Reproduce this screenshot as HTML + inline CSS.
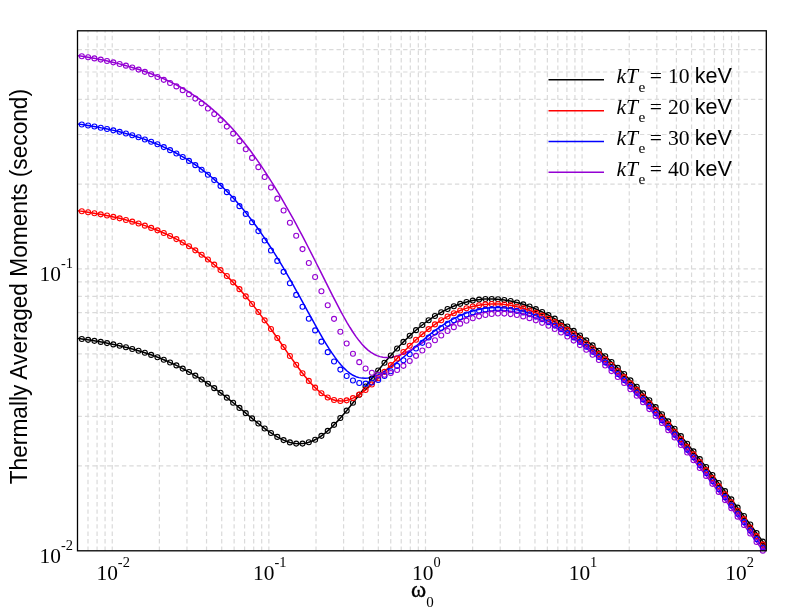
<!DOCTYPE html>
<html><head><meta charset="utf-8"><title>chart</title>
<style>html,body{margin:0;padding:0;background:#fff;}body{width:797px;height:616px;overflow:hidden;}svg{display:block;will-change:transform;opacity:0.999;}</style>
</head><body>
<svg width="797" height="616" viewBox="0 0 797 616">
<rect x="0" y="0" width="797" height="616" fill="#fff"/>
<defs><clipPath id="fr"><rect x="77.5" y="30.8" width="688.80" height="520.00"/></clipPath></defs>
<path d="M87.99 550.8V30.8M97.07 550.8V30.8M105.08 550.8V30.8M112.25 550.8V30.8M159.39 550.8V30.8M186.97 550.8V30.8M206.54 550.8V30.8M221.72 550.8V30.8M234.12 550.8V30.8M244.60 550.8V30.8M253.69 550.8V30.8M261.70 550.8V30.8M268.86 550.8V30.8M316.01 550.8V30.8M343.59 550.8V30.8M363.16 550.8V30.8M378.34 550.8V30.8M390.74 550.8V30.8M401.22 550.8V30.8M410.31 550.8V30.8M418.32 550.8V30.8M425.48 550.8V30.8M472.63 550.8V30.8M500.21 550.8V30.8M519.78 550.8V30.8M534.96 550.8V30.8M547.36 550.8V30.8M557.84 550.8V30.8M566.92 550.8V30.8M574.94 550.8V30.8M582.10 550.8V30.8M629.25 550.8V30.8M656.83 550.8V30.8M676.40 550.8V30.8M691.57 550.8V30.8M703.98 550.8V30.8M714.46 550.8V30.8M723.54 550.8V30.8M731.55 550.8V30.8M738.72 550.8V30.8M77.5 465.96H766.3M77.5 416.33H766.3M77.5 381.12H766.3M77.5 353.81H766.3M77.5 331.50H766.3M77.5 312.63H766.3M77.5 296.28H766.3M77.5 281.87H766.3M77.5 268.97H766.3M77.5 184.13H766.3M77.5 134.51H766.3M77.5 99.29H766.3M77.5 71.98H766.3M77.5 49.67H766.3" fill="none" stroke="#dadada" stroke-width="1.2" stroke-dasharray="4.4 3"/>
<polyline points="77.50,338.38 80.49,338.78 83.49,339.19 86.48,339.62 89.48,340.06 92.47,340.53 95.47,341.02 98.46,341.52 101.46,342.05 104.45,342.60 107.45,343.18 110.44,343.78 113.44,344.40 116.43,345.05 119.43,345.73 122.42,346.44 125.42,347.17 128.41,347.94 131.41,348.74 134.40,349.57 137.40,350.44 140.39,351.34 143.39,352.28 146.38,353.25 149.37,354.27 152.37,355.32 155.36,356.42 158.36,357.56 161.35,358.74 164.35,359.98 167.34,361.25 170.34,362.58 173.33,363.95 176.33,365.38 179.32,366.85 182.32,368.38 185.31,369.97 188.31,371.61 191.30,373.30 194.30,375.05 197.29,376.86 200.29,378.72 203.28,380.64 206.28,382.62 209.27,384.66 212.27,386.75 215.26,388.89 218.25,391.09 221.25,393.34 224.24,395.63 227.24,397.97 230.23,400.36 233.23,402.78 236.22,405.23 239.22,407.70 242.21,410.19 245.21,412.69 248.20,415.20 251.20,417.69 254.19,420.16 257.19,422.59 260.18,424.98 263.18,427.31 266.17,429.55 269.17,431.70 272.16,433.73 275.16,435.63 278.15,437.38 281.15,438.95 284.14,440.33 287.13,441.50 290.13,442.44 293.12,443.14 296.12,443.58 299.11,443.74 302.11,443.62 305.10,443.21 308.10,442.51 311.09,441.51 314.09,440.22 317.08,438.64 320.08,436.78 323.07,434.66 326.07,432.29 329.06,429.68 332.06,426.85 335.05,423.83 338.05,420.63 341.04,417.27 344.04,413.78 347.03,410.18 350.03,406.48 353.02,402.72 356.01,398.90 359.01,395.04 362.00,391.16 365.00,387.28 367.99,383.42 370.99,379.57 373.98,375.76 376.98,371.99 379.97,368.28 382.97,364.64 385.96,361.06 388.96,357.56 391.95,354.14 394.95,350.81 397.94,347.57 400.94,344.43 403.93,341.39 406.93,338.44 409.92,335.60 412.92,332.86 415.91,330.23 418.91,327.70 421.90,325.28 424.89,322.97 427.89,320.77 430.88,318.68 433.88,316.69 436.87,314.81 439.87,313.04 442.86,311.38 445.86,309.83 448.85,308.38 451.85,307.04 454.84,305.81 457.84,304.68 460.83,303.65 463.83,302.73 466.82,301.91 469.82,301.19 472.81,300.58 475.81,300.06 478.80,299.64 481.80,299.32 484.79,299.10 487.79,298.97 490.78,298.94 493.77,299.01 496.77,299.16 499.76,299.41 502.76,299.74 505.75,300.17 508.75,300.68 511.74,301.28 514.74,301.97 517.73,302.74 520.73,303.59 523.72,304.52 526.72,305.54 529.71,306.63 532.71,307.80 535.70,309.04 538.70,310.37 541.69,311.76 544.69,313.23 547.68,314.76 550.68,316.37 553.67,318.04 556.67,319.79 559.66,321.59 562.65,323.46 565.65,325.40 568.64,327.39 571.64,329.45 574.63,331.57 577.63,333.74 580.62,335.97 583.62,338.25 586.61,340.59 589.61,342.99 592.60,345.43 595.60,347.93 598.59,350.47 601.59,353.07 604.58,355.71 607.58,358.40 610.57,361.13 613.57,363.91 616.56,366.73 619.56,369.60 622.55,372.50 625.55,375.45 628.54,378.43 631.53,381.46 634.53,384.52 637.52,387.62 640.52,390.76 643.51,393.93 646.51,397.13 649.50,400.37 652.50,403.64 655.49,406.95 658.49,410.28 661.48,413.65 664.48,417.04 667.47,420.47 670.47,423.92 673.46,427.40 676.46,430.91 679.45,434.45 682.45,438.01 685.44,441.60 688.44,445.21 691.43,448.85 694.43,452.51 697.42,456.19 700.41,459.90 703.41,463.63 706.40,467.38 709.40,471.15 712.39,474.94 715.39,478.76 718.38,482.59 721.38,486.44 724.37,490.31 727.37,494.20 730.36,498.11 733.36,502.04 736.35,505.98 739.35,509.95 742.34,513.93 745.34,517.92 748.33,521.93 751.33,525.96 754.32,530.00 757.32,534.06 760.31,538.14 763.31,542.22 766.30,546.33" fill="none" stroke="#000000" stroke-width="1.5" stroke-linejoin="round" clip-path="url(#fr)"/>
<polyline points="77.50,210.72 80.49,211.12 83.49,211.54 86.48,211.98 89.48,212.44 92.47,212.92 95.47,213.42 98.46,213.95 101.46,214.49 104.45,215.06 107.45,215.65 110.44,216.27 113.44,216.92 116.43,217.60 119.43,218.30 122.42,219.03 125.42,219.80 128.41,220.60 131.41,221.43 134.40,222.30 137.40,223.20 140.39,224.15 143.39,225.13 146.38,226.16 149.37,227.23 152.37,228.34 155.36,229.50 158.36,230.71 161.35,231.96 164.35,233.27 167.34,234.64 170.34,236.06 173.33,237.53 176.33,239.07 179.32,240.67 182.32,242.33 185.31,244.06 188.31,245.86 191.30,247.73 194.30,249.67 197.29,251.69 200.29,253.78 203.28,255.95 206.28,258.20 209.27,260.54 212.27,262.96 215.26,265.47 218.25,268.07 221.25,270.76 224.24,273.54 227.24,276.42 230.23,279.39 233.23,282.46 236.22,285.62 239.22,288.88 242.21,292.24 245.21,295.70 248.20,299.25 251.20,302.89 254.19,306.63 257.19,310.45 260.18,314.36 263.18,318.35 266.17,322.41 269.17,326.53 272.16,330.72 275.16,334.95 278.15,339.21 281.15,343.50 284.14,347.80 287.13,352.08 290.13,356.34 293.12,360.55 296.12,364.69 299.11,368.74 302.11,372.67 305.10,376.45 308.10,380.05 311.09,383.45 314.09,386.63 317.08,389.54 320.08,392.17 323.07,394.49 326.07,396.49 329.06,398.13 332.06,399.42 335.05,400.33 338.05,400.87 341.04,401.03 344.04,400.83 347.03,400.26 350.03,399.36 353.02,398.12 356.01,396.59 359.01,394.77 362.00,392.70 365.00,390.41 367.99,387.91 370.99,385.25 373.98,382.44 376.98,379.52 379.97,376.50 382.97,373.41 385.96,370.28 388.96,367.12 391.95,363.95 394.95,360.78 397.94,357.64 400.94,354.54 403.93,351.48 406.93,348.48 409.92,345.54 412.92,342.68 415.91,339.90 418.91,337.20 421.90,334.60 424.89,332.09 427.89,329.68 430.88,327.38 433.88,325.18 436.87,323.08 439.87,321.09 442.86,319.21 445.86,317.45 448.85,315.79 451.85,314.24 454.84,312.80 457.84,311.47 460.83,310.26 463.83,309.15 466.82,308.15 469.82,307.26 472.81,306.48 475.81,305.80 478.80,305.23 481.80,304.77 484.79,304.41 487.79,304.15 490.78,303.99 493.77,303.93 496.77,303.97 499.76,304.10 502.76,304.34 505.75,304.66 508.75,305.08 511.74,305.59 514.74,306.20 517.73,306.88 520.73,307.66 523.72,308.52 526.72,309.47 529.71,310.50 532.71,311.61 535.70,312.80 538.70,314.07 541.69,315.41 544.69,316.83 547.68,318.32 550.68,319.89 553.67,321.52 556.67,323.23 559.66,325.00 562.65,326.84 565.65,328.74 568.64,330.71 571.64,332.74 574.63,334.83 577.63,336.98 580.62,339.19 583.62,341.46 586.61,343.78 589.61,346.15 592.60,348.58 595.60,351.06 598.59,353.60 601.59,356.18 604.58,358.81 607.58,361.49 610.57,364.21 613.57,366.98 616.56,369.79 619.56,372.65 622.55,375.55 625.55,378.49 628.54,381.47 631.53,384.49 634.53,387.54 637.52,390.64 640.52,393.77 643.51,396.94 646.51,400.14 649.50,403.38 652.50,406.65 655.49,409.95 658.49,413.29 661.48,416.65 664.48,420.05 667.47,423.47 670.47,426.92 673.46,430.41 676.46,433.92 679.45,437.45 682.45,441.02 685.44,444.60 688.44,448.22 691.43,451.86 694.43,455.52 697.42,459.20 700.41,462.91 703.41,466.64 706.40,470.40 709.40,474.17 712.39,477.96 715.39,481.78 718.38,485.62 721.38,489.47 724.37,493.35 727.37,497.24 730.36,501.15 733.36,505.08 736.35,509.03 739.35,512.99 742.34,516.98 745.34,520.97 748.33,524.99 751.33,529.02 754.32,533.07 757.32,537.13 760.31,541.20 763.31,545.30 766.30,549.40" fill="none" stroke="#ff0000" stroke-width="1.5" stroke-linejoin="round" clip-path="url(#fr)"/>
<polyline points="77.50,123.95 80.49,124.37 83.49,124.80 86.48,125.26 89.48,125.74 92.47,126.24 95.47,126.76 98.46,127.30 101.46,127.87 104.45,128.46 107.45,129.07 110.44,129.72 113.44,130.39 116.43,131.09 119.43,131.82 122.42,132.58 125.42,133.37 128.41,134.20 131.41,135.07 134.40,135.97 137.40,136.91 140.39,137.89 143.39,138.91 146.38,139.97 149.37,141.08 152.37,142.24 155.36,143.43 158.36,144.68 161.35,145.97 164.35,147.32 167.34,148.72 170.34,150.17 173.33,151.68 176.33,153.26 179.32,154.89 182.32,156.59 185.31,158.36 188.31,160.20 191.30,162.12 194.30,164.11 197.29,166.18 200.29,168.33 203.28,170.56 206.28,172.88 209.27,175.29 212.27,177.78 215.26,180.37 218.25,183.05 221.25,185.83 224.24,188.70 227.24,191.69 230.23,194.77 233.23,197.97 236.22,201.27 239.22,204.69 242.21,208.22 245.21,211.86 248.20,215.61 251.20,219.48 254.19,223.46 257.19,227.56 260.18,231.77 263.18,236.09 266.17,240.52 269.17,245.03 272.16,249.64 275.16,254.35 278.15,259.17 281.15,264.11 284.14,269.17 287.13,274.34 290.13,279.60 293.12,284.93 296.12,290.32 299.11,295.73 302.11,301.15 305.10,306.58 308.10,312.03 311.09,317.48 314.09,322.94 317.08,328.36 320.08,333.68 323.07,338.86 326.07,343.85 329.06,348.63 332.06,353.17 335.05,357.42 338.05,361.36 341.04,364.95 344.04,368.16 347.03,370.97 350.03,373.35 353.02,375.26 356.01,376.68 359.01,377.62 362.00,378.12 365.00,378.23 367.99,377.98 370.99,377.40 373.98,376.51 376.98,375.32 379.97,373.88 382.97,372.19 385.96,370.32 388.96,368.30 391.95,366.17 394.95,363.95 397.94,361.64 400.94,359.24 403.93,356.77 406.93,354.24 409.92,351.66 412.92,349.04 415.91,346.39 418.91,343.75 421.90,341.14 424.89,338.59 427.89,336.10 430.88,333.70 433.88,331.38 436.87,329.17 439.87,327.05 442.86,325.04 445.86,323.14 448.85,321.34 451.85,319.65 454.84,318.07 457.84,316.60 460.83,315.24 463.83,313.99 466.82,312.86 469.82,311.83 472.81,310.92 475.81,310.12 478.80,309.43 481.80,308.85 484.79,308.38 487.79,308.01 490.78,307.75 493.77,307.59 496.77,307.53 499.76,307.58 502.76,307.73 505.75,307.97 508.75,308.31 511.74,308.75 514.74,309.28 517.73,309.90 520.73,310.62 523.72,311.43 526.72,312.32 529.71,313.30 532.71,314.37 535.70,315.52 538.70,316.75 541.69,318.06 544.69,319.46 547.68,320.92 550.68,322.47 553.67,324.09 556.67,325.78 559.66,327.54 562.65,329.37 565.65,331.27 568.64,333.23 571.64,335.26 574.63,337.35 577.63,339.51 580.62,341.72 583.62,343.99 586.61,346.32 589.61,348.70 592.60,351.14 595.60,353.63 598.59,356.17 601.59,358.77 604.58,361.41 607.58,364.11 610.57,366.85 613.57,369.64 616.56,372.48 619.56,375.36 622.55,378.28 625.55,381.25 628.54,384.26 631.53,387.30 634.53,390.38 637.52,393.50 640.52,396.65 643.51,399.84 646.51,403.06 649.50,406.31 652.50,409.59 655.49,412.90 658.49,416.24 661.48,419.61 664.48,423.00 667.47,426.42 670.47,429.88 673.46,433.36 676.46,436.87 679.45,440.41 682.45,443.97 685.44,447.56 688.44,451.17 691.43,454.81 694.43,458.48 697.42,462.16 700.41,465.87 703.41,469.61 706.40,473.36 709.40,477.14 712.39,480.93 715.39,484.75 718.38,488.59 721.38,492.45 724.37,496.32 727.37,500.22 730.36,504.13 733.36,508.07 736.35,512.02 739.35,515.98 742.34,519.97 745.34,523.97 748.33,527.99 751.33,532.02 754.32,536.07 757.32,540.14 760.31,544.21 763.31,548.31 766.30,552.42" fill="none" stroke="#0000ff" stroke-width="1.5" stroke-linejoin="round" clip-path="url(#fr)"/>
<polyline points="77.50,55.66 80.49,56.10 83.49,56.55 86.48,57.03 89.48,57.53 92.47,58.05 95.47,58.59 98.46,59.16 101.46,59.75 104.45,60.37 107.45,61.02 110.44,61.69 113.44,62.40 116.43,63.13 119.43,63.89 122.42,64.69 125.42,65.52 128.41,66.38 131.41,67.26 134.40,68.16 137.40,69.09 140.39,70.04 143.39,71.03 146.38,72.06 149.37,73.12 152.37,74.23 155.36,75.38 158.36,76.58 161.35,77.83 164.35,79.13 167.34,80.48 170.34,81.89 173.33,83.36 176.33,84.89 179.32,86.48 182.32,88.14 185.31,89.87 188.31,91.67 191.30,93.55 194.30,95.51 197.29,97.55 200.29,99.68 203.28,101.89 206.28,104.20 209.27,106.60 212.27,109.10 215.26,111.70 218.25,114.40 221.25,117.21 224.24,120.14 227.24,123.17 230.23,126.33 233.23,129.61 236.22,133.00 239.22,136.53 242.21,140.17 245.21,143.94 248.20,147.82 251.20,151.82 254.19,155.94 257.19,160.17 260.18,164.50 263.18,168.95 266.17,173.50 269.17,178.14 272.16,182.89 275.16,187.73 278.15,192.66 281.15,197.68 284.14,202.80 287.13,208.01 290.13,213.31 293.12,218.71 296.12,224.20 299.11,229.78 302.11,235.44 305.10,241.18 308.10,246.99 311.09,252.85 314.09,258.77 317.08,264.72 320.08,270.69 323.07,276.68 326.07,282.66 329.06,288.62 332.06,294.54 335.05,300.40 338.05,306.16 341.04,311.80 344.04,317.26 347.03,322.52 350.03,327.52 353.02,332.23 356.01,336.60 359.01,340.60 362.00,344.19 365.00,347.37 367.99,350.10 370.99,352.39 373.98,354.23 376.98,355.63 379.97,356.61 382.97,357.22 385.96,357.49 388.96,357.46 391.95,357.15 394.95,356.57 397.94,355.73 400.94,354.67 403.93,353.42 406.93,352.01 409.92,350.45 412.92,348.76 415.91,346.96 418.91,345.07 421.90,343.12 424.89,341.14 427.89,339.16 430.88,337.20 433.88,335.26 436.87,333.35 439.87,331.47 442.86,329.60 445.86,327.76 448.85,325.99 451.85,324.30 454.84,322.69 457.84,321.17 460.83,319.75 463.83,318.41 466.82,317.17 469.82,316.02 472.81,314.98 475.81,314.04 478.80,313.21 481.80,312.50 484.79,311.90 487.79,311.41 490.78,311.03 493.77,310.75 496.77,310.57 499.76,310.52 502.76,310.58 505.75,310.77 508.75,311.06 511.74,311.44 514.74,311.93 517.73,312.51 520.73,313.19 523.72,313.95 526.72,314.81 529.71,315.76 532.71,316.80 535.70,317.93 538.70,319.13 541.69,320.43 544.69,321.80 547.68,323.25 550.68,324.78 553.67,326.38 556.67,328.06 559.66,329.81 562.65,331.63 565.65,333.52 568.64,335.47 571.64,337.49 574.63,339.58 577.63,341.73 580.62,343.94 583.62,346.21 586.61,348.53 589.61,350.92 592.60,353.36 595.60,355.85 598.59,358.40 601.59,360.99 604.58,363.64 607.58,366.34 610.57,369.08 613.57,371.87 616.56,374.71 619.56,377.59 622.55,380.51 625.55,383.48 628.54,386.48 631.53,389.53 634.53,392.61 637.52,395.73 640.52,398.89 643.51,402.09 646.51,405.32 649.50,408.59 652.50,411.89 655.49,415.22 658.49,418.58 661.48,421.97 664.48,425.40 667.47,428.85 670.47,432.33 673.46,435.84 676.46,439.38 679.45,442.95 682.45,446.54 685.44,450.15 688.44,453.79 691.43,457.46 694.43,461.15 697.42,464.86 700.41,468.59 703.41,472.34 706.40,476.13 709.40,479.95 712.39,483.80 715.39,487.65 718.38,491.51 721.38,495.37 724.37,499.25 727.37,503.15 730.36,507.06 733.36,511.00 736.35,514.95 739.35,518.92 742.34,522.91 745.34,526.91 748.33,530.93 751.33,534.97 754.32,539.02 757.32,543.09 760.31,547.17 763.31,551.26 766.30,555.38" fill="none" stroke="#9400d3" stroke-width="1.5" stroke-linejoin="round" clip-path="url(#fr)"/>
<g fill="none" stroke="#000000" stroke-width="1.1">
<circle cx="81.80" cy="338.95" r="2.5"/>
<circle cx="88.11" cy="339.86" r="2.5"/>
<circle cx="94.41" cy="340.84" r="2.5"/>
<circle cx="100.72" cy="341.92" r="2.5"/>
<circle cx="107.02" cy="343.09" r="2.5"/>
<circle cx="113.33" cy="344.38" r="2.5"/>
<circle cx="119.64" cy="345.78" r="2.5"/>
<circle cx="125.94" cy="347.31" r="2.5"/>
<circle cx="132.25" cy="348.97" r="2.5"/>
<circle cx="138.55" cy="350.78" r="2.5"/>
<circle cx="144.86" cy="352.75" r="2.5"/>
<circle cx="151.17" cy="354.89" r="2.5"/>
<circle cx="157.47" cy="357.22" r="2.5"/>
<circle cx="163.78" cy="359.74" r="2.5"/>
<circle cx="170.08" cy="362.46" r="2.5"/>
<circle cx="176.39" cy="365.41" r="2.5"/>
<circle cx="182.70" cy="368.58" r="2.5"/>
<circle cx="189.00" cy="372.00" r="2.5"/>
<circle cx="195.31" cy="375.66" r="2.5"/>
<circle cx="201.61" cy="379.57" r="2.5"/>
<circle cx="207.92" cy="383.73" r="2.5"/>
<circle cx="214.23" cy="388.15" r="2.5"/>
<circle cx="220.53" cy="392.79" r="2.5"/>
<circle cx="226.84" cy="397.66" r="2.5"/>
<circle cx="233.14" cy="402.71" r="2.5"/>
<circle cx="239.45" cy="407.89" r="2.5"/>
<circle cx="245.76" cy="413.15" r="2.5"/>
<circle cx="252.06" cy="418.40" r="2.5"/>
<circle cx="258.37" cy="423.54" r="2.5"/>
<circle cx="264.67" cy="428.44" r="2.5"/>
<circle cx="270.98" cy="432.94" r="2.5"/>
<circle cx="277.29" cy="436.89" r="2.5"/>
<circle cx="283.59" cy="440.09" r="2.5"/>
<circle cx="289.90" cy="442.38" r="2.5"/>
<circle cx="296.20" cy="443.59" r="2.5"/>
<circle cx="302.51" cy="443.59" r="2.5"/>
<circle cx="308.82" cy="442.30" r="2.5"/>
<circle cx="315.12" cy="439.71" r="2.5"/>
<circle cx="321.43" cy="435.86" r="2.5"/>
<circle cx="327.73" cy="430.86" r="2.5"/>
<circle cx="334.04" cy="424.87" r="2.5"/>
<circle cx="340.35" cy="418.06" r="2.5"/>
<circle cx="346.65" cy="410.64" r="2.5"/>
<circle cx="352.96" cy="402.80" r="2.5"/>
<circle cx="359.26" cy="394.71" r="2.5"/>
<circle cx="365.57" cy="386.55" r="2.5"/>
<circle cx="371.88" cy="378.44" r="2.5"/>
<circle cx="378.18" cy="370.50" r="2.5"/>
<circle cx="384.49" cy="362.81" r="2.5"/>
<circle cx="390.79" cy="355.45" r="2.5"/>
<circle cx="397.10" cy="348.47" r="2.5"/>
<circle cx="403.41" cy="341.91" r="2.5"/>
<circle cx="409.71" cy="335.79" r="2.5"/>
<circle cx="416.02" cy="330.14" r="2.5"/>
<circle cx="422.32" cy="324.95" r="2.5"/>
<circle cx="428.63" cy="320.24" r="2.5"/>
<circle cx="434.94" cy="316.02" r="2.5"/>
<circle cx="441.24" cy="312.27" r="2.5"/>
<circle cx="447.55" cy="309.00" r="2.5"/>
<circle cx="453.85" cy="306.20" r="2.5"/>
<circle cx="460.16" cy="303.87" r="2.5"/>
<circle cx="466.47" cy="302.00" r="2.5"/>
<circle cx="472.77" cy="300.58" r="2.5"/>
<circle cx="479.08" cy="299.61" r="2.5"/>
<circle cx="485.38" cy="299.07" r="2.5"/>
<circle cx="491.69" cy="298.95" r="2.5"/>
<circle cx="498.00" cy="299.25" r="2.5"/>
<circle cx="504.30" cy="299.95" r="2.5"/>
<circle cx="510.61" cy="301.04" r="2.5"/>
<circle cx="516.91" cy="302.52" r="2.5"/>
<circle cx="523.22" cy="304.36" r="2.5"/>
<circle cx="529.53" cy="306.56" r="2.5"/>
<circle cx="535.83" cy="309.10" r="2.5"/>
<circle cx="542.14" cy="311.97" r="2.5"/>
<circle cx="548.44" cy="315.17" r="2.5"/>
<circle cx="554.75" cy="318.66" r="2.5"/>
<circle cx="561.06" cy="322.46" r="2.5"/>
<circle cx="567.36" cy="326.53" r="2.5"/>
<circle cx="573.67" cy="330.88" r="2.5"/>
<circle cx="579.97" cy="335.48" r="2.5"/>
<circle cx="586.28" cy="340.33" r="2.5"/>
<circle cx="592.59" cy="345.42" r="2.5"/>
<circle cx="598.89" cy="350.73" r="2.5"/>
<circle cx="605.20" cy="356.26" r="2.5"/>
<circle cx="611.50" cy="361.99" r="2.5"/>
<circle cx="617.81" cy="367.92" r="2.5"/>
<circle cx="624.12" cy="374.04" r="2.5"/>
<circle cx="630.42" cy="380.33" r="2.5"/>
<circle cx="636.73" cy="386.79" r="2.5"/>
<circle cx="643.03" cy="393.42" r="2.5"/>
<circle cx="649.34" cy="400.19" r="2.5"/>
<circle cx="655.65" cy="407.12" r="2.5"/>
<circle cx="661.95" cy="414.18" r="2.5"/>
<circle cx="668.26" cy="421.37" r="2.5"/>
<circle cx="674.56" cy="428.69" r="2.5"/>
<circle cx="680.87" cy="436.13" r="2.5"/>
<circle cx="687.18" cy="443.69" r="2.5"/>
<circle cx="693.48" cy="451.35" r="2.5"/>
<circle cx="699.79" cy="459.12" r="2.5"/>
<circle cx="706.09" cy="466.99" r="2.5"/>
<circle cx="712.40" cy="474.95" r="2.5"/>
<circle cx="718.71" cy="483.00" r="2.5"/>
<circle cx="725.01" cy="491.14" r="2.5"/>
<circle cx="731.32" cy="499.36" r="2.5"/>
<circle cx="737.62" cy="507.67" r="2.5"/>
<circle cx="743.93" cy="516.04" r="2.5"/>
<circle cx="750.24" cy="524.49" r="2.5"/>
<circle cx="756.54" cy="533.01" r="2.5"/>
<circle cx="762.85" cy="541.60" r="2.5"/>
</g>
<g fill="none" stroke="#ff0000" stroke-width="1.1">
<circle cx="81.80" cy="211.30" r="2.5"/>
<circle cx="88.11" cy="212.23" r="2.5"/>
<circle cx="94.41" cy="213.24" r="2.5"/>
<circle cx="100.72" cy="214.35" r="2.5"/>
<circle cx="107.02" cy="215.57" r="2.5"/>
<circle cx="113.33" cy="216.90" r="2.5"/>
<circle cx="119.64" cy="218.35" r="2.5"/>
<circle cx="125.94" cy="219.94" r="2.5"/>
<circle cx="132.25" cy="221.67" r="2.5"/>
<circle cx="138.55" cy="223.56" r="2.5"/>
<circle cx="144.86" cy="225.63" r="2.5"/>
<circle cx="151.17" cy="227.89" r="2.5"/>
<circle cx="157.47" cy="230.34" r="2.5"/>
<circle cx="163.78" cy="233.02" r="2.5"/>
<circle cx="170.08" cy="235.93" r="2.5"/>
<circle cx="176.39" cy="239.10" r="2.5"/>
<circle cx="182.70" cy="242.55" r="2.5"/>
<circle cx="189.00" cy="246.29" r="2.5"/>
<circle cx="195.31" cy="250.34" r="2.5"/>
<circle cx="201.61" cy="254.73" r="2.5"/>
<circle cx="207.92" cy="259.48" r="2.5"/>
<circle cx="214.23" cy="264.59" r="2.5"/>
<circle cx="220.53" cy="270.11" r="2.5"/>
<circle cx="226.84" cy="276.03" r="2.5"/>
<circle cx="233.14" cy="282.37" r="2.5"/>
<circle cx="239.45" cy="289.14" r="2.5"/>
<circle cx="245.76" cy="296.34" r="2.5"/>
<circle cx="252.06" cy="303.96" r="2.5"/>
<circle cx="258.37" cy="311.98" r="2.5"/>
<circle cx="264.67" cy="320.37" r="2.5"/>
<circle cx="270.98" cy="329.06" r="2.5"/>
<circle cx="277.29" cy="337.98" r="2.5"/>
<circle cx="283.59" cy="347.01" r="2.5"/>
<circle cx="289.90" cy="356.01" r="2.5"/>
<circle cx="296.20" cy="364.81" r="2.5"/>
<circle cx="302.51" cy="373.18" r="2.5"/>
<circle cx="308.82" cy="380.89" r="2.5"/>
<circle cx="315.12" cy="387.66" r="2.5"/>
<circle cx="321.43" cy="393.26" r="2.5"/>
<circle cx="327.73" cy="397.45" r="2.5"/>
<circle cx="334.04" cy="400.06" r="2.5"/>
<circle cx="340.35" cy="401.03" r="2.5"/>
<circle cx="346.65" cy="400.35" r="2.5"/>
<circle cx="352.96" cy="398.15" r="2.5"/>
<circle cx="359.26" cy="394.60" r="2.5"/>
<circle cx="365.57" cy="389.94" r="2.5"/>
<circle cx="371.88" cy="384.43" r="2.5"/>
<circle cx="378.18" cy="378.31" r="2.5"/>
<circle cx="384.49" cy="371.83" r="2.5"/>
<circle cx="390.79" cy="365.17" r="2.5"/>
<circle cx="397.10" cy="358.52" r="2.5"/>
<circle cx="403.41" cy="352.01" r="2.5"/>
<circle cx="409.71" cy="345.74" r="2.5"/>
<circle cx="416.02" cy="339.80" r="2.5"/>
<circle cx="422.32" cy="334.24" r="2.5"/>
<circle cx="428.63" cy="329.10" r="2.5"/>
<circle cx="434.94" cy="324.42" r="2.5"/>
<circle cx="441.24" cy="320.22" r="2.5"/>
<circle cx="447.55" cy="316.50" r="2.5"/>
<circle cx="453.85" cy="313.26" r="2.5"/>
<circle cx="460.16" cy="310.52" r="2.5"/>
<circle cx="466.47" cy="308.26" r="2.5"/>
<circle cx="472.77" cy="306.49" r="2.5"/>
<circle cx="479.08" cy="305.19" r="2.5"/>
<circle cx="485.38" cy="304.35" r="2.5"/>
<circle cx="491.69" cy="303.96" r="2.5"/>
<circle cx="498.00" cy="304.01" r="2.5"/>
<circle cx="504.30" cy="304.49" r="2.5"/>
<circle cx="510.61" cy="305.39" r="2.5"/>
<circle cx="516.91" cy="306.69" r="2.5"/>
<circle cx="523.22" cy="308.37" r="2.5"/>
<circle cx="529.53" cy="310.43" r="2.5"/>
<circle cx="535.83" cy="312.85" r="2.5"/>
<circle cx="542.14" cy="315.62" r="2.5"/>
<circle cx="548.44" cy="318.71" r="2.5"/>
<circle cx="554.75" cy="322.13" r="2.5"/>
<circle cx="561.06" cy="325.85" r="2.5"/>
<circle cx="567.36" cy="329.86" r="2.5"/>
<circle cx="573.67" cy="334.15" r="2.5"/>
<circle cx="579.97" cy="338.71" r="2.5"/>
<circle cx="586.28" cy="343.52" r="2.5"/>
<circle cx="592.59" cy="348.57" r="2.5"/>
<circle cx="598.89" cy="353.85" r="2.5"/>
<circle cx="605.20" cy="359.35" r="2.5"/>
<circle cx="611.50" cy="365.07" r="2.5"/>
<circle cx="617.81" cy="370.98" r="2.5"/>
<circle cx="624.12" cy="377.08" r="2.5"/>
<circle cx="630.42" cy="383.36" r="2.5"/>
<circle cx="636.73" cy="389.81" r="2.5"/>
<circle cx="643.03" cy="396.43" r="2.5"/>
<circle cx="649.34" cy="403.20" r="2.5"/>
<circle cx="655.65" cy="410.12" r="2.5"/>
<circle cx="661.95" cy="417.18" r="2.5"/>
<circle cx="668.26" cy="424.37" r="2.5"/>
<circle cx="674.56" cy="431.70" r="2.5"/>
<circle cx="680.87" cy="439.14" r="2.5"/>
<circle cx="687.18" cy="446.69" r="2.5"/>
<circle cx="693.48" cy="454.36" r="2.5"/>
<circle cx="699.79" cy="462.13" r="2.5"/>
<circle cx="706.09" cy="470.01" r="2.5"/>
<circle cx="712.40" cy="477.97" r="2.5"/>
<circle cx="718.71" cy="486.03" r="2.5"/>
<circle cx="725.01" cy="494.18" r="2.5"/>
<circle cx="731.32" cy="502.40" r="2.5"/>
<circle cx="737.62" cy="510.71" r="2.5"/>
<circle cx="743.93" cy="519.09" r="2.5"/>
<circle cx="750.24" cy="527.55" r="2.5"/>
<circle cx="756.54" cy="536.08" r="2.5"/>
<circle cx="762.85" cy="544.67" r="2.5"/>
</g>
<g fill="none" stroke="#0000ff" stroke-width="1.1">
<circle cx="81.80" cy="124.55" r="2.5"/>
<circle cx="88.11" cy="125.52" r="2.5"/>
<circle cx="94.41" cy="126.57" r="2.5"/>
<circle cx="100.72" cy="127.72" r="2.5"/>
<circle cx="107.02" cy="128.98" r="2.5"/>
<circle cx="113.33" cy="130.36" r="2.5"/>
<circle cx="119.64" cy="131.87" r="2.5"/>
<circle cx="125.94" cy="133.52" r="2.5"/>
<circle cx="132.25" cy="135.32" r="2.5"/>
<circle cx="138.55" cy="137.28" r="2.5"/>
<circle cx="144.86" cy="139.43" r="2.5"/>
<circle cx="151.17" cy="141.77" r="2.5"/>
<circle cx="157.47" cy="144.32" r="2.5"/>
<circle cx="163.78" cy="147.10" r="2.5"/>
<circle cx="170.08" cy="150.13" r="2.5"/>
<circle cx="176.39" cy="153.43" r="2.5"/>
<circle cx="182.70" cy="157.02" r="2.5"/>
<circle cx="189.00" cy="160.91" r="2.5"/>
<circle cx="195.31" cy="165.14" r="2.5"/>
<circle cx="201.61" cy="169.73" r="2.5"/>
<circle cx="207.92" cy="174.70" r="2.5"/>
<circle cx="214.23" cy="180.08" r="2.5"/>
<circle cx="220.53" cy="185.89" r="2.5"/>
<circle cx="226.84" cy="192.15" r="2.5"/>
<circle cx="233.14" cy="198.90" r="2.5"/>
<circle cx="239.45" cy="206.15" r="2.5"/>
<circle cx="245.76" cy="213.92" r="2.5"/>
<circle cx="252.06" cy="222.23" r="2.5"/>
<circle cx="258.37" cy="231.08" r="2.5"/>
<circle cx="264.67" cy="240.49" r="2.5"/>
<circle cx="270.98" cy="250.44" r="2.5"/>
<circle cx="277.29" cy="260.91" r="2.5"/>
<circle cx="283.59" cy="271.86" r="2.5"/>
<circle cx="289.90" cy="283.22" r="2.5"/>
<circle cx="296.20" cy="294.90" r="2.5"/>
<circle cx="302.51" cy="306.78" r="2.5"/>
<circle cx="308.82" cy="318.68" r="2.5"/>
<circle cx="315.12" cy="330.38" r="2.5"/>
<circle cx="321.43" cy="341.64" r="2.5"/>
<circle cx="327.73" cy="352.14" r="2.5"/>
<circle cx="334.04" cy="361.56" r="2.5"/>
<circle cx="340.35" cy="369.60" r="2.5"/>
<circle cx="346.65" cy="375.97" r="2.5"/>
<circle cx="352.96" cy="380.47" r="2.5"/>
<circle cx="359.26" cy="383.02" r="2.5"/>
<circle cx="365.57" cy="383.67" r="2.5"/>
<circle cx="371.88" cy="382.55" r="2.5"/>
<circle cx="378.18" cy="379.92" r="2.5"/>
<circle cx="384.49" cy="376.07" r="2.5"/>
<circle cx="390.79" cy="371.30" r="2.5"/>
<circle cx="397.10" cy="365.92" r="2.5"/>
<circle cx="403.41" cy="360.18" r="2.5"/>
<circle cx="409.71" cy="354.32" r="2.5"/>
<circle cx="416.02" cy="348.49" r="2.5"/>
<circle cx="422.32" cy="342.86" r="2.5"/>
<circle cx="428.63" cy="337.51" r="2.5"/>
<circle cx="434.94" cy="332.53" r="2.5"/>
<circle cx="441.24" cy="327.97" r="2.5"/>
<circle cx="447.55" cy="323.87" r="2.5"/>
<circle cx="453.85" cy="320.25" r="2.5"/>
<circle cx="460.16" cy="317.13" r="2.5"/>
<circle cx="466.47" cy="314.51" r="2.5"/>
<circle cx="472.77" cy="312.39" r="2.5"/>
<circle cx="479.08" cy="310.77" r="2.5"/>
<circle cx="485.38" cy="309.64" r="2.5"/>
<circle cx="491.69" cy="308.98" r="2.5"/>
<circle cx="498.00" cy="308.79" r="2.5"/>
<circle cx="504.30" cy="309.04" r="2.5"/>
<circle cx="510.61" cy="309.74" r="2.5"/>
<circle cx="516.91" cy="310.86" r="2.5"/>
<circle cx="523.22" cy="312.39" r="2.5"/>
<circle cx="529.53" cy="314.30" r="2.5"/>
<circle cx="535.83" cy="316.60" r="2.5"/>
<circle cx="542.14" cy="319.25" r="2.5"/>
<circle cx="548.44" cy="322.25" r="2.5"/>
<circle cx="554.75" cy="325.58" r="2.5"/>
<circle cx="561.06" cy="329.22" r="2.5"/>
<circle cx="567.36" cy="333.17" r="2.5"/>
<circle cx="573.67" cy="337.40" r="2.5"/>
<circle cx="579.97" cy="341.91" r="2.5"/>
<circle cx="586.28" cy="346.67" r="2.5"/>
<circle cx="592.59" cy="351.69" r="2.5"/>
<circle cx="598.89" cy="356.94" r="2.5"/>
<circle cx="605.20" cy="362.41" r="2.5"/>
<circle cx="611.50" cy="368.10" r="2.5"/>
<circle cx="617.81" cy="373.99" r="2.5"/>
<circle cx="624.12" cy="380.08" r="2.5"/>
<circle cx="630.42" cy="386.35" r="2.5"/>
<circle cx="636.73" cy="392.79" r="2.5"/>
<circle cx="643.03" cy="399.40" r="2.5"/>
<circle cx="649.34" cy="406.16" r="2.5"/>
<circle cx="655.65" cy="413.08" r="2.5"/>
<circle cx="661.95" cy="420.14" r="2.5"/>
<circle cx="668.26" cy="427.33" r="2.5"/>
<circle cx="674.56" cy="434.65" r="2.5"/>
<circle cx="680.87" cy="442.09" r="2.5"/>
<circle cx="687.18" cy="449.65" r="2.5"/>
<circle cx="693.48" cy="457.32" r="2.5"/>
<circle cx="699.79" cy="465.09" r="2.5"/>
<circle cx="706.09" cy="472.97" r="2.5"/>
<circle cx="712.40" cy="480.94" r="2.5"/>
<circle cx="718.71" cy="489.00" r="2.5"/>
<circle cx="725.01" cy="497.15" r="2.5"/>
<circle cx="731.32" cy="505.39" r="2.5"/>
<circle cx="737.62" cy="513.70" r="2.5"/>
<circle cx="743.93" cy="522.09" r="2.5"/>
<circle cx="750.24" cy="530.55" r="2.5"/>
<circle cx="756.54" cy="539.08" r="2.5"/>
<circle cx="762.85" cy="547.68" r="2.5"/>
</g>
<g fill="none" stroke="#9400d3" stroke-width="1.1">
<circle cx="81.80" cy="56.29" r="2.5"/>
<circle cx="88.11" cy="57.30" r="2.5"/>
<circle cx="94.41" cy="58.40" r="2.5"/>
<circle cx="100.72" cy="59.61" r="2.5"/>
<circle cx="107.02" cy="60.93" r="2.5"/>
<circle cx="113.33" cy="62.37" r="2.5"/>
<circle cx="119.64" cy="63.95" r="2.5"/>
<circle cx="125.94" cy="65.67" r="2.5"/>
<circle cx="132.25" cy="67.55" r="2.5"/>
<circle cx="138.55" cy="69.60" r="2.5"/>
<circle cx="144.86" cy="71.83" r="2.5"/>
<circle cx="151.17" cy="74.27" r="2.5"/>
<circle cx="157.47" cy="76.93" r="2.5"/>
<circle cx="163.78" cy="79.83" r="2.5"/>
<circle cx="170.08" cy="82.98" r="2.5"/>
<circle cx="176.39" cy="86.41" r="2.5"/>
<circle cx="182.70" cy="90.14" r="2.5"/>
<circle cx="189.00" cy="94.19" r="2.5"/>
<circle cx="195.31" cy="98.58" r="2.5"/>
<circle cx="201.61" cy="103.34" r="2.5"/>
<circle cx="207.92" cy="108.50" r="2.5"/>
<circle cx="214.23" cy="114.08" r="2.5"/>
<circle cx="220.53" cy="120.10" r="2.5"/>
<circle cx="226.84" cy="126.60" r="2.5"/>
<circle cx="233.14" cy="133.61" r="2.5"/>
<circle cx="239.45" cy="141.14" r="2.5"/>
<circle cx="245.76" cy="149.22" r="2.5"/>
<circle cx="252.06" cy="157.89" r="2.5"/>
<circle cx="258.37" cy="167.15" r="2.5"/>
<circle cx="264.67" cy="177.03" r="2.5"/>
<circle cx="270.98" cy="187.54" r="2.5"/>
<circle cx="277.29" cy="198.67" r="2.5"/>
<circle cx="283.59" cy="210.43" r="2.5"/>
<circle cx="289.90" cy="222.79" r="2.5"/>
<circle cx="296.20" cy="235.71" r="2.5"/>
<circle cx="302.51" cy="249.12" r="2.5"/>
<circle cx="308.82" cy="262.94" r="2.5"/>
<circle cx="315.12" cy="277.03" r="2.5"/>
<circle cx="321.43" cy="291.21" r="2.5"/>
<circle cx="327.73" cy="305.25" r="2.5"/>
<circle cx="334.04" cy="318.87" r="2.5"/>
<circle cx="340.35" cy="331.73" r="2.5"/>
<circle cx="346.65" cy="343.48" r="2.5"/>
<circle cx="352.96" cy="353.74" r="2.5"/>
<circle cx="359.26" cy="362.17" r="2.5"/>
<circle cx="365.57" cy="368.53" r="2.5"/>
<circle cx="371.88" cy="372.71" r="2.5"/>
<circle cx="378.18" cy="374.72" r="2.5"/>
<circle cx="384.49" cy="374.73" r="2.5"/>
<circle cx="390.79" cy="373.03" r="2.5"/>
<circle cx="397.10" cy="369.95" r="2.5"/>
<circle cx="403.41" cy="365.84" r="2.5"/>
<circle cx="409.71" cy="361.05" r="2.5"/>
<circle cx="416.02" cy="355.87" r="2.5"/>
<circle cx="422.32" cy="350.55" r="2.5"/>
<circle cx="428.63" cy="345.27" r="2.5"/>
<circle cx="434.94" cy="340.20" r="2.5"/>
<circle cx="441.24" cy="335.43" r="2.5"/>
<circle cx="447.55" cy="331.06" r="2.5"/>
<circle cx="453.85" cy="327.13" r="2.5"/>
<circle cx="460.16" cy="323.67" r="2.5"/>
<circle cx="466.47" cy="320.72" r="2.5"/>
<circle cx="472.77" cy="318.28" r="2.5"/>
<circle cx="479.08" cy="316.35" r="2.5"/>
<circle cx="485.38" cy="314.93" r="2.5"/>
<circle cx="491.69" cy="314.00" r="2.5"/>
<circle cx="498.00" cy="313.56" r="2.5"/>
<circle cx="504.30" cy="313.60" r="2.5"/>
<circle cx="510.61" cy="314.09" r="2.5"/>
<circle cx="516.91" cy="315.03" r="2.5"/>
<circle cx="523.22" cy="316.40" r="2.5"/>
<circle cx="529.53" cy="318.17" r="2.5"/>
<circle cx="535.83" cy="320.33" r="2.5"/>
<circle cx="542.14" cy="322.87" r="2.5"/>
<circle cx="548.44" cy="325.77" r="2.5"/>
<circle cx="554.75" cy="329.01" r="2.5"/>
<circle cx="561.06" cy="332.57" r="2.5"/>
<circle cx="567.36" cy="336.45" r="2.5"/>
<circle cx="573.67" cy="340.62" r="2.5"/>
<circle cx="579.97" cy="345.08" r="2.5"/>
<circle cx="586.28" cy="349.80" r="2.5"/>
<circle cx="592.59" cy="354.77" r="2.5"/>
<circle cx="598.89" cy="359.99" r="2.5"/>
<circle cx="605.20" cy="365.44" r="2.5"/>
<circle cx="611.50" cy="371.10" r="2.5"/>
<circle cx="617.81" cy="376.97" r="2.5"/>
<circle cx="624.12" cy="383.04" r="2.5"/>
<circle cx="630.42" cy="389.29" r="2.5"/>
<circle cx="636.73" cy="395.72" r="2.5"/>
<circle cx="643.03" cy="402.32" r="2.5"/>
<circle cx="649.34" cy="409.08" r="2.5"/>
<circle cx="655.65" cy="415.99" r="2.5"/>
<circle cx="661.95" cy="423.04" r="2.5"/>
<circle cx="668.26" cy="430.23" r="2.5"/>
<circle cx="674.56" cy="437.55" r="2.5"/>
<circle cx="680.87" cy="445.00" r="2.5"/>
<circle cx="687.18" cy="452.55" r="2.5"/>
<circle cx="693.48" cy="460.23" r="2.5"/>
<circle cx="699.79" cy="468.00" r="2.5"/>
<circle cx="706.09" cy="475.88" r="2.5"/>
<circle cx="712.40" cy="483.86" r="2.5"/>
<circle cx="718.71" cy="491.92" r="2.5"/>
<circle cx="725.01" cy="500.08" r="2.5"/>
<circle cx="731.32" cy="508.32" r="2.5"/>
<circle cx="737.62" cy="516.63" r="2.5"/>
<circle cx="743.93" cy="525.03" r="2.5"/>
<circle cx="750.24" cy="533.50" r="2.5"/>
<circle cx="756.54" cy="542.03" r="2.5"/>
<circle cx="762.85" cy="550.64" r="2.5"/>
</g>
<rect x="77.5" y="30.8" width="688.80" height="520.00" fill="none" stroke="#000" stroke-width="1.3"/>
<line x1="548.5" x2="604" y1="79.80" y2="79.80" stroke="#000000" stroke-width="1.5"/>
<text y="83.40" font-family="'Liberation Serif', serif" font-size="21.6" fill="#000"><tspan x="616.4" font-style="italic">kT</tspan><tspan x="638.6" font-size="15.3" dy="8.2">e</tspan><tspan x="649.8" dy="-8.2">=</tspan><tspan x="668.0">10</tspan><tspan x="694.7" font-family="'Liberation Sans', sans-serif" font-size="21.6">keV</tspan></text>
<line x1="548.5" x2="604" y1="110.65" y2="110.65" stroke="#ff0000" stroke-width="1.5"/>
<text y="114.25" font-family="'Liberation Serif', serif" font-size="21.6" fill="#000"><tspan x="616.4" font-style="italic">kT</tspan><tspan x="638.6" font-size="15.3" dy="8.2">e</tspan><tspan x="649.8" dy="-8.2">=</tspan><tspan x="668.0">20</tspan><tspan x="694.7" font-family="'Liberation Sans', sans-serif" font-size="21.6">keV</tspan></text>
<line x1="548.5" x2="604" y1="141.50" y2="141.50" stroke="#0000ff" stroke-width="1.5"/>
<text y="145.10" font-family="'Liberation Serif', serif" font-size="21.6" fill="#000"><tspan x="616.4" font-style="italic">kT</tspan><tspan x="638.6" font-size="15.3" dy="8.2">e</tspan><tspan x="649.8" dy="-8.2">=</tspan><tspan x="668.0">30</tspan><tspan x="694.7" font-family="'Liberation Sans', sans-serif" font-size="21.6">keV</tspan></text>
<line x1="548.5" x2="604" y1="172.35" y2="172.35" stroke="#9400d3" stroke-width="1.5"/>
<text y="175.95" font-family="'Liberation Serif', serif" font-size="21.6" fill="#000"><tspan x="616.4" font-style="italic">kT</tspan><tspan x="638.6" font-size="15.3" dy="8.2">e</tspan><tspan x="649.8" dy="-8.2">=</tspan><tspan x="668.0">40</tspan><tspan x="694.7" font-family="'Liberation Sans', sans-serif" font-size="21.6">keV</tspan></text>
<text x="113.15" y="579.5" text-anchor="middle" font-family="'Liberation Serif', serif" font-size="21.4" fill="#000">10<tspan font-size="14.4" dy="-12.4">-2</tspan></text>
<text x="269.76" y="579.5" text-anchor="middle" font-family="'Liberation Serif', serif" font-size="21.4" fill="#000">10<tspan font-size="14.4" dy="-12.4">-1</tspan></text>
<text x="426.38" y="579.5" text-anchor="middle" font-family="'Liberation Serif', serif" font-size="21.4" fill="#000">10<tspan font-size="14.4" dy="-12.4">0</tspan></text>
<text x="583.00" y="579.5" text-anchor="middle" font-family="'Liberation Serif', serif" font-size="21.4" fill="#000">10<tspan font-size="14.4" dy="-12.4">1</tspan></text>
<text x="739.62" y="579.5" text-anchor="middle" font-family="'Liberation Serif', serif" font-size="21.4" fill="#000">10<tspan font-size="14.4" dy="-12.4">2</tspan></text>
<text x="73.0" y="562.50" text-anchor="end" font-family="'Liberation Serif', serif" font-size="21.4" fill="#000">10<tspan font-size="14.4" dy="-12.4">-2</tspan></text>
<text x="73.0" y="280.67" text-anchor="end" font-family="'Liberation Serif', serif" font-size="21.4" fill="#000">10<tspan font-size="14.4" dy="-12.4">-1</tspan></text>
<text x="411" y="597.1" font-family="'Liberation Serif', serif" font-size="23" fill="#000"><tspan stroke="#000" stroke-width="0.35">ω</tspan><tspan font-size="15" dy="10">0</tspan></text>
<text transform="translate(26.8 286.6) rotate(-90) scale(1,1.03)" text-anchor="middle" font-family="'Liberation Sans', sans-serif" font-size="22.69" fill="#000">Thermally Averaged Moments (second)</text>
</svg>
</body></html>
